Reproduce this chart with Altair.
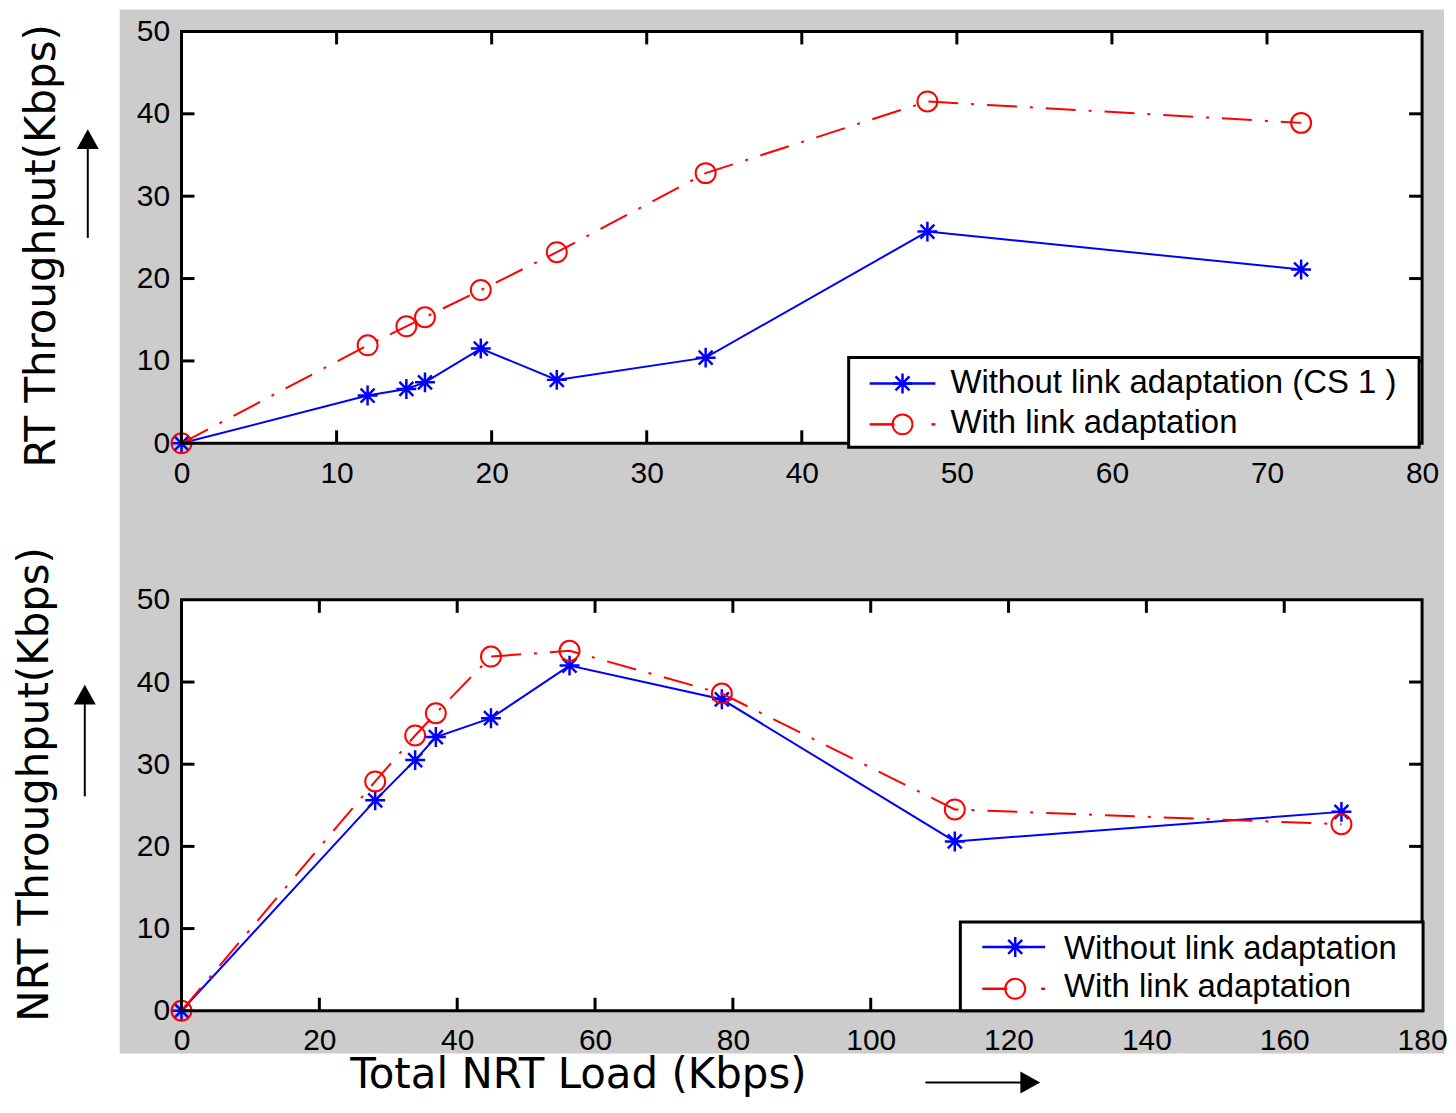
import altair as alt
import pandas as pd

# ---------------- data ----------------
top_load = [0, 12.0, 14.5, 15.7, 19.3, 24.2, 33.8, 48.1, 72.2]
top_without = [0, 5.8, 6.6, 7.4, 11.5, 7.7, 10.4, 25.7, 21.1]
top_with = [0, 11.9, 14.2, 15.3, 18.6, 23.2, 32.8, 41.5, 38.9]

bot_load = [0, 28.1, 33.9, 36.9, 44.9, 56.3, 78.4, 112.2, 168.3]
bot_without = [0, 25.6, 30.5, 33.3, 35.6, 42.0, 37.9, 20.6, 24.2]
bot_with = [0, 27.9, 33.5, 36.2, 43.1, 43.8, 38.6, 24.5, 22.7]

top_xticks = [0, 10, 20, 30, 40, 50, 60, 70, 80]
bot_xticks = [0, 20, 40, 60, 80, 100, 120, 140, 160, 180]
yticks = [0, 10, 20, 30, 40, 50]

legend_top = ["Without link adaptation (CS 1 )", "With link adaptation"]
legend_bot = ["Without link adaptation", "With link adaptation"]
ytitle_top = "RT Throughput(Kbps)"
ytitle_bot = "NRT Throughput(Kbps)"
xtitle = "Total NRT Load (Kbps)"

# ---------------- style ----------------
W = 1244
BLUE = "#0000ff"
RED = "#ff0000"
GRAY = "#cccccc"
TICKFONT = "Liberation Sans"
TITLEFONT = "DejaVu Sans"
STAR = "M-1,0L1,0M0,-1L0,1M-0.7,-0.7L0.7,0.7M-0.7,0.7L0.7,-0.7"
ARROW_UP = "M0,-1L1,0.8L-1,0.8Z"
ARROW_RIGHT = "M1,0L-0.8,-1L-0.8,1Z"
DASHDOT = [30, 13, 3, 13]
one = pd.DataFrame({"k": [0]})


def rect(x1, x2, y1, y2, **kw):
    return alt.Chart(one).mark_rect(**kw).encode(
        x=alt.value(x1), x2=alt.value(x2), y=alt.value(y1), y2=alt.value(y2)
    )


def hrule(x1, x2, y, color, width, **kw):
    return alt.Chart(one).mark_rule(color=color, strokeWidth=width, **kw).encode(
        x=alt.value(x1), x2=alt.value(x2), y=alt.value(y)
    )


def vrule(x, y1, y2, color, width):
    return alt.Chart(one).mark_rule(color=color, strokeWidth=width).encode(
        x=alt.value(x), y=alt.value(y1), y2=alt.value(y2)
    )


def symbol(x, y, shape, size, color, filled, sw=2):
    return alt.Chart(one).mark_point(
        shape=shape, size=size, color=color, filled=filled, strokeWidth=sw, opacity=1
    ).encode(x=alt.value(x), y=alt.value(y))


def label(x, y, txt, size, font, angle=0, align="left"):
    kw = dict(text=txt, fontSize=size, font=font, color="black", align=align,
              baseline="alphabetic")
    if angle:
        kw["angle"] = angle
    return alt.Chart(one).mark_text(**kw).encode(x=alt.value(x), y=alt.value(y))


def panel(loads, s_wo, s_w, xmax, xticks, H, leg_labels, leg, ytitle, yt, arrow, top):
    xs = alt.Scale(domain=[0, xmax], nice=False, zero=False)
    ys = alt.Scale(domain=[0, 50], nice=False, zero=False)
    common = dict(title=None, domain=False, ticks=False, grid=False,
                  labelFont=TICKFONT, labelFontSize=30, labelColor="black",
                  labelFlush=False, labelOverlap=False, zindex=1)
    xaxis = alt.Axis(values=xticks, labelPadding=15, **common)
    yaxis = alt.Axis(values=yticks, labelPadding=12, **common)
    df = pd.DataFrame({"x": loads, "without": s_wo, "with": s_w})
    X = alt.X("x:Q", scale=xs, axis=xaxis)

    layers = []
    if top:
        layers.append(rect(-174, -62, -22, 1025, fill="white", strokeWidth=0))
        layers.append(rect(-62, 1266, -22, 1025, fill=GRAY, strokeWidth=0))
    layers.append(rect(0, W, 0, H, fill="white", strokeWidth=0))

    tx = pd.DataFrame({"x": [t for t in xticks if 0 < t < xmax]})
    ty = pd.DataFrame({"y": [t for t in yticks if 0 < t < 50]})
    Yt = alt.Y("y:Q", scale=ys, axis=yaxis)
    layers += [
        alt.Chart(tx).mark_rule(color="black", strokeWidth=3).encode(
            x=X, y=alt.value(H), y2=alt.value(H - 13)),
        alt.Chart(tx).mark_rule(color="black", strokeWidth=3).encode(
            x=X, y=alt.value(0), y2=alt.value(13)),
        alt.Chart(ty).mark_rule(color="black", strokeWidth=3).encode(
            y=Yt, x=alt.value(0), x2=alt.value(13)),
        alt.Chart(ty).mark_rule(color="black", strokeWidth=3).encode(
            y=Yt, x=alt.value(W - 13), x2=alt.value(W)),
    ]

    Ywo = alt.Y("without:Q", scale=ys, axis=yaxis)
    Yw = alt.Y("with:Q", scale=ys, axis=yaxis)
    base = alt.Chart(df)
    layers += [
        base.mark_line(color=BLUE, strokeWidth=2).encode(x=X, y=Ywo),
        base.mark_point(shape=STAR, size=400, color=BLUE, filled=False,
                        strokeWidth=2.5, opacity=1).encode(x=X, y=Ywo),
        base.mark_line(color=RED, strokeWidth=2, strokeDash=DASHDOT).encode(x=X, y=Yw),
        base.mark_point(shape="circle", size=400, color=RED, filled=False,
                        strokeWidth=2, opacity=1).encode(x=X, y=Yw),
    ]

    # plot box
    layers.append(rect(0, W, 0, H, fillOpacity=0, stroke="black", strokeWidth=3))

    # legend
    bx1, bx2, by1, by2, lx1, lx2, mx, tx0, ey1, ey2, tb1, tb2 = leg
    layers += [
        rect(bx1, bx2, by1, by2, fill="white", stroke="black", strokeWidth=3),
        hrule(lx1, lx2, ey1, BLUE, 2.5),
        symbol(mx, ey1, STAR, 400, BLUE, False, 2.5),
        hrule(lx1, mx - 8, ey2, RED, 2.5),
        symbol(mx, ey2, "circle", 400, RED, False, 2),
        hrule(lx2 - 4, lx2, ey2, RED, 2.5),
        label(tx0, tb1, leg_labels[0], 33, TICKFONT),
        label(tx0, tb2, leg_labels[1], 33, TICKFONT),
    ]

    # y title and arrow
    ytx, yty = yt
    layers.append(label(ytx, yty, ytitle, 42, TITLEFONT, angle=270, align="center"))
    ax, ay_tip, ay_bot = arrow
    layers.append(vrule(ax, ay_tip + 18, ay_bot, "black", 2))
    layers.append(symbol(ax, ay_tip + 11, ARROW_UP, 484, "black", True, 0))

    if not top:
        layers.append(label(398, 489, xtitle, 42, TITLEFONT, align="center"))
        layers.append(hrule(746, 845, 484, "black", 2))
        layers.append(symbol(850, 484, ARROW_RIGHT, 484, "black", True, 0))

    return alt.layer(*layers).properties(width=W, height=H)


top_chart = panel(
    top_load, top_without, top_with, 80, top_xticks, 413, legend_top,
    (669, 1241, 327, 417, 690, 756, 723, 771, 353, 394, 363, 403),
    ytitle_top, (-127, 215), (-94, 98, 207), True,
)
bot_chart = panel(
    bot_load, bot_without, bot_with, 180, bot_xticks, 412, legend_bot,
    (781, 1245, 323, 412, 803, 866, 836, 885, 348, 390, 360, 398),
    ytitle_bot, (-134, 185), (-97, 85, 197), False,
)

chart = (
    alt.vconcat(top_chart, bot_chart, spacing=157, bounds="flush")
    .configure_view(strokeWidth=0)
    .properties(padding=0, background="white")
)

chart.save("out.html", embed_options={"renderer": "svg", "actions": False})
